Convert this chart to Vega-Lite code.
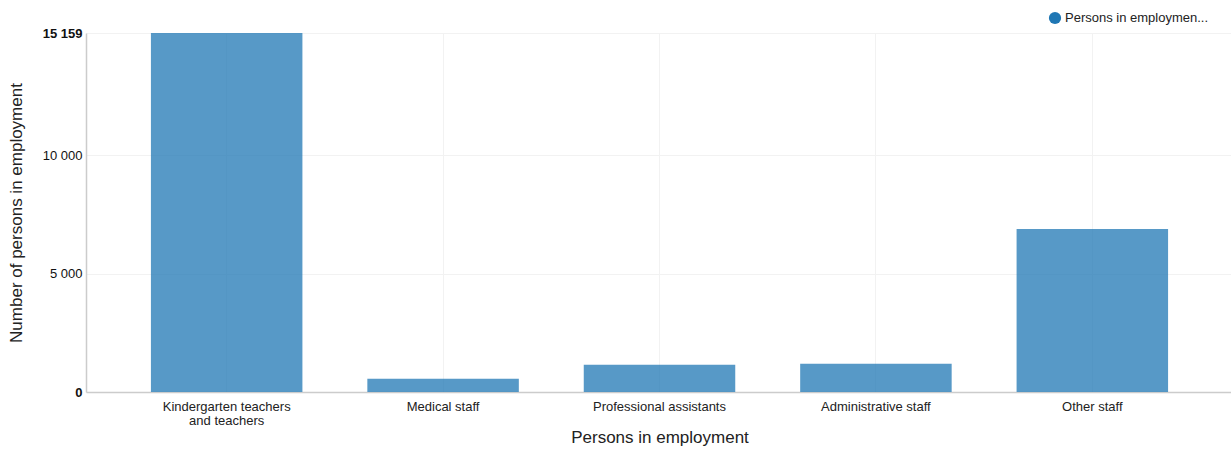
{
  "$schema": "https://vega.github.io/schema/vega-lite/v6.json",
  "width": 1147,
  "height": 359,
  "autosize": {"type": "none"},
  "padding": {"left": 86, "top": 33, "right": 0, "bottom": 58},
  "background": "white",
  "config": {
    "font": "Liberation Sans",
    "view": {"stroke": null}
  },
  "data": {
    "values": [
      {"category": "Kindergarten teachers and teachers", "series": "Persons in employment", "value": 15159},
      {"category": "Medical staff", "series": "Persons in employment", "value": 560},
      {"category": "Professional assistants", "series": "Persons in employment", "value": 1150},
      {"category": "Administrative staff", "series": "Persons in employment", "value": 1190},
      {"category": "Other staff", "series": "Persons in employment", "value": 6880}
    ]
  },
  "mark": {"type": "bar", "opacity": 0.75},
  "encoding": {
    "x": {
      "field": "category",
      "type": "nominal",
      "sort": null,
      "title": "Persons in employment",
      "scale": {"paddingInner": 0.3, "paddingOuter": 0.3},
      "axis": {
        "labelAngle": 0,
        "labelFontSize": 13,
        "labelColor": "#222",
        "labelExpr": "datum.label == 'Kindergarten teachers and teachers' ? ['Kindergarten teachers', 'and teachers'] : datum.label",
        "labelPadding": 8,
        "labelLineHeight": 14,
        "ticks": false,
        "domainColor": "#cccccc",
        "domainWidth": 1.5,
        "grid": true,
        "bandPosition": 0.5,
        "gridColor": "#f2f2f2",
        "titleFontSize": 17,
        "titleFontWeight": "normal",
        "titleColor": "#222",
        "titlePadding": 2
      }
    },
    "y": {
      "field": "value",
      "type": "quantitative",
      "title": "Number of persons in employment",
      "scale": {"domain": [0, 15159], "nice": false},
      "axis": {
        "values": [0, 5000, 10000, 15159],
        "labelExpr": "replace(datum.label, ',', ' ')",
        "labelFontSize": 13,
        "labelColor": "#111",
        "labelFontWeight": {"condition": {"test": "datum.value == 0 || datum.value == 15159", "value": "bold"}, "value": "normal"},
        "labelPadding": 4,
        "ticks": false,
        "domainColor": "#cccccc",
        "domainWidth": 1.5,
        "gridColor": "#f2f2f2",
        "titleFontSize": 17,
        "titleFontWeight": "normal",
        "titleColor": "#222",
        "titlePadding": 17
      }
    },
    "color": {
      "field": "series",
      "type": "nominal",
      "scale": {"range": ["#1f77b4"]},
      "legend": {
        "orient": "none",
        "legendX": 962,
        "legendY": -22,
        "title": null,
        "symbolType": "circle",
        "symbolSize": 150,
        "symbolOpacity": 1,
        "labelFontSize": 13,
        "labelColor": "#222",
        "labelExpr": "'Persons in employmen...'",
        "labelOffset": 3,
        "padding": 0
      }
    }
  }
}
